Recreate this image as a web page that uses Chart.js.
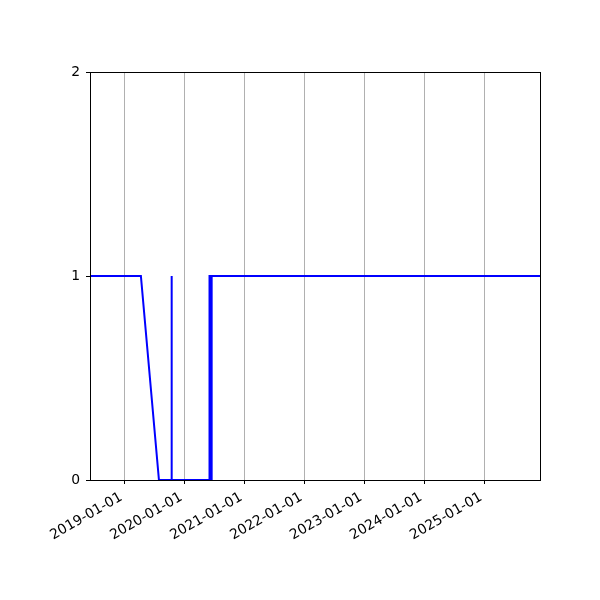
<!DOCTYPE html>
<html>
<head>
<meta charset="utf-8">
<script src="https://cdn.jsdelivr.net/npm/chart.js@4.4.0/dist/chart.umd.min.js"></script>
<style>
  html, body { margin: 0; padding: 0; background: #fff; }
  #wrap { width: 600px; height: 600px; }
</style>
</head>
<body>
<div id="wrap"><canvas id="chart" width="600" height="600"></canvas></div>
<script>
// data (dates, state 0/1)
const dates = [
  '2018-06-06', '2019-04-12', '2019-07-31', '2019-10-15', '2019-10-16',
  '2019-10-17', '2020-06-02', '2020-06-03', '2020-06-10', '2020-06-13',
  '2020-06-16', '2025-12-07'
];
const values = [1, 1, 0, 0, 1, 0, 0, 1, 1, 0, 1, 1];
const tickYears = [2019, 2020, 2021, 2022, 2023, 2024, 2025];
const yTicks = [0, 1, 2];

const toMs = (s) => {
  const [y, m, d] = s.split('-').map(Number);
  return Date.UTC(y, m - 1, d);
};
const pad = (n) => String(n).padStart(2, '0');
const fmtDate = (ms) => {
  const d = new Date(ms);
  return d.getUTCFullYear() + '-' + pad(d.getUTCMonth() + 1) + '-' + pad(d.getUTCDate());
};

const points = dates.map((s, i) => ({ x: toMs(s), y: values[i] }));

// matplotlib-like frame drawn on top of the line
const frame = {
  id: 'frame',
  afterDraw(chart) {
    const { ctx, chartArea: a } = chart;
    ctx.save();
    ctx.strokeStyle = '#000';
    ctx.lineWidth = 1;
    ctx.strokeRect(Math.round(a.left) + 0.5, Math.round(a.top) + 0.5,
      Math.round(a.right - a.left), Math.round(a.bottom - a.top));
    ctx.restore();
  }
};

const font = { family: 'DejaVu Sans', size: 13.9 };

new Chart(document.getElementById('chart').getContext('2d'), {
  type: 'line',
  data: {
    datasets: [{
      data: points,
      borderColor: '#0000ff',
      borderWidth: 2,
      pointRadius: 0,
      tension: 0,
      fill: false,
      clip: 0,
    }],
  },
  options: {
    responsive: false,
    animation: false,
    devicePixelRatio: 1,
    layout: { padding: { top: 72, right: 60, left: 0, bottom: 0 } },
    plugins: { legend: { display: false }, tooltip: { enabled: false } },
    scales: {
      x: {
        type: 'linear',
        min: toMs(dates[0]),
        max: toMs(dates[dates.length - 1]),
        afterBuildTicks: (scale) => {
          scale.ticks = tickYears.map((y) => ({ value: Date.UTC(y, 0, 1) }));
        },
        afterFit: (scale) => { scale.height = 120; },
        grid: {
          color: '#b0b0b0',
          lineWidth: 1,
          tickColor: '#000',
          tickLength: 4,
        },
        border: { display: false },
        ticks: {
          color: '#000',
          font: font,
          minRotation: 30,
          maxRotation: 30,
          autoSkip: false,
          padding: 5,
          labelOffset: -3,
          callback: (v) => fmtDate(v),
        },
      },
      y: {
        min: 0,
        max: 2,
        afterBuildTicks: (scale) => {
          scale.ticks = yTicks.map((v) => ({ value: v }));
        },
        afterFit: (scale) => { scale.width = 90; },
        grid: {
          drawOnChartArea: false,
          tickColor: '#000',
          tickLength: 4,
        },
        border: { display: false },
        ticks: {
          color: '#000',
          font: font,
          padding: 6,
        },
      },
    },
  },
  plugins: [frame],
});
</script>
</body>
</html>
